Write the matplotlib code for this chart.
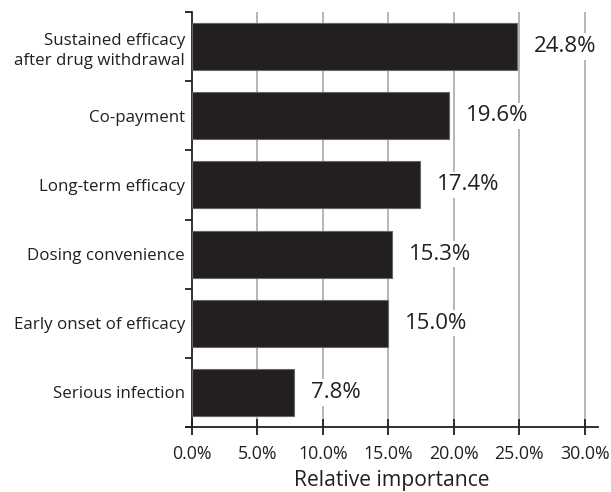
import matplotlib
matplotlib.use("Agg")
import matplotlib.pyplot as plt
import numpy as np

categories = [
    "Sustained efficacy\nafter drug withdrawal",
    "Co-payment",
    "Long-term efficacy",
    "Dosing convenience",
    "Early onset of efficacy",
    "Serious infection",
]
importance = [24.8, 19.6, 17.4, 15.3, 15.0, 7.8]
x_ticks = [0, 5, 10, 15, 20, 25, 30]
x_tick_labels = ["0.0%", "5.0%", "10.0%", "15.0%", "20.0%", "25.0%", "30.0%"]

plt.rcParams["font.family"] = ["Open Sans", "DejaVu Sans"]
text_color = "#231f20"

fig = plt.figure(figsize=(6.11, 4.92), dpi=100)
ax = fig.add_axes([0.3044, 0.1321, 0.9787 - 0.3044, 0.9756 - 0.1321])

# spines first: moving a spine resets that axis' ticks
ax.spines["top"].set_visible(False)
ax.spines["right"].set_visible(False)
ax.spines["left"].set_position(("data", 0))
for side in ("left", "bottom"):
    ax.spines[side].set_linewidth(1.3)
    ax.spines[side].set_color(text_color)

y = np.arange(len(categories))
ax.barh(y, importance, height=0.68, color="#231f20", edgecolor="#666666",
        linewidth=0.8, zorder=3)

for xi in x_ticks[1:]:
    ax.axvline(xi, color="#b0b0b0", linewidth=1.3, zorder=1)

for yi, v in zip(y, importance):
    ax.text(v + 1.3, yi, f"{v:.1f}%", va="center", ha="left", fontsize=16,
            color=text_color, zorder=4,
            bbox=dict(facecolor="white", edgecolor="none", pad=2))

ax.set_xlim(-0.45, 31)
ax.set_ylim(len(categories) - 0.5, -0.5)

ax.set_yticks(y)
ax.set_yticklabels(categories, linespacing=1.35)
ax.set_yticks(np.arange(-0.5, len(categories), 1.0), minor=True)
ax.tick_params(axis="y", which="major", length=0, pad=5, labelsize=12.2,
               labelcolor=text_color)
ax.tick_params(axis="y", which="minor", length=5, width=1.3, color=text_color,
               direction="out")

ax.set_xticks(x_ticks)
ax.set_xticklabels(x_tick_labels)
ax.tick_params(axis="x", which="major", length=12, width=1.3, color=text_color,
               direction="inout", pad=7, labelsize=12.8, labelcolor=text_color)

ax.set_xlabel("Relative importance", fontsize=15.2, color=text_color, labelpad=5)

fig.savefig("out.png", dpi=100, facecolor="white")
